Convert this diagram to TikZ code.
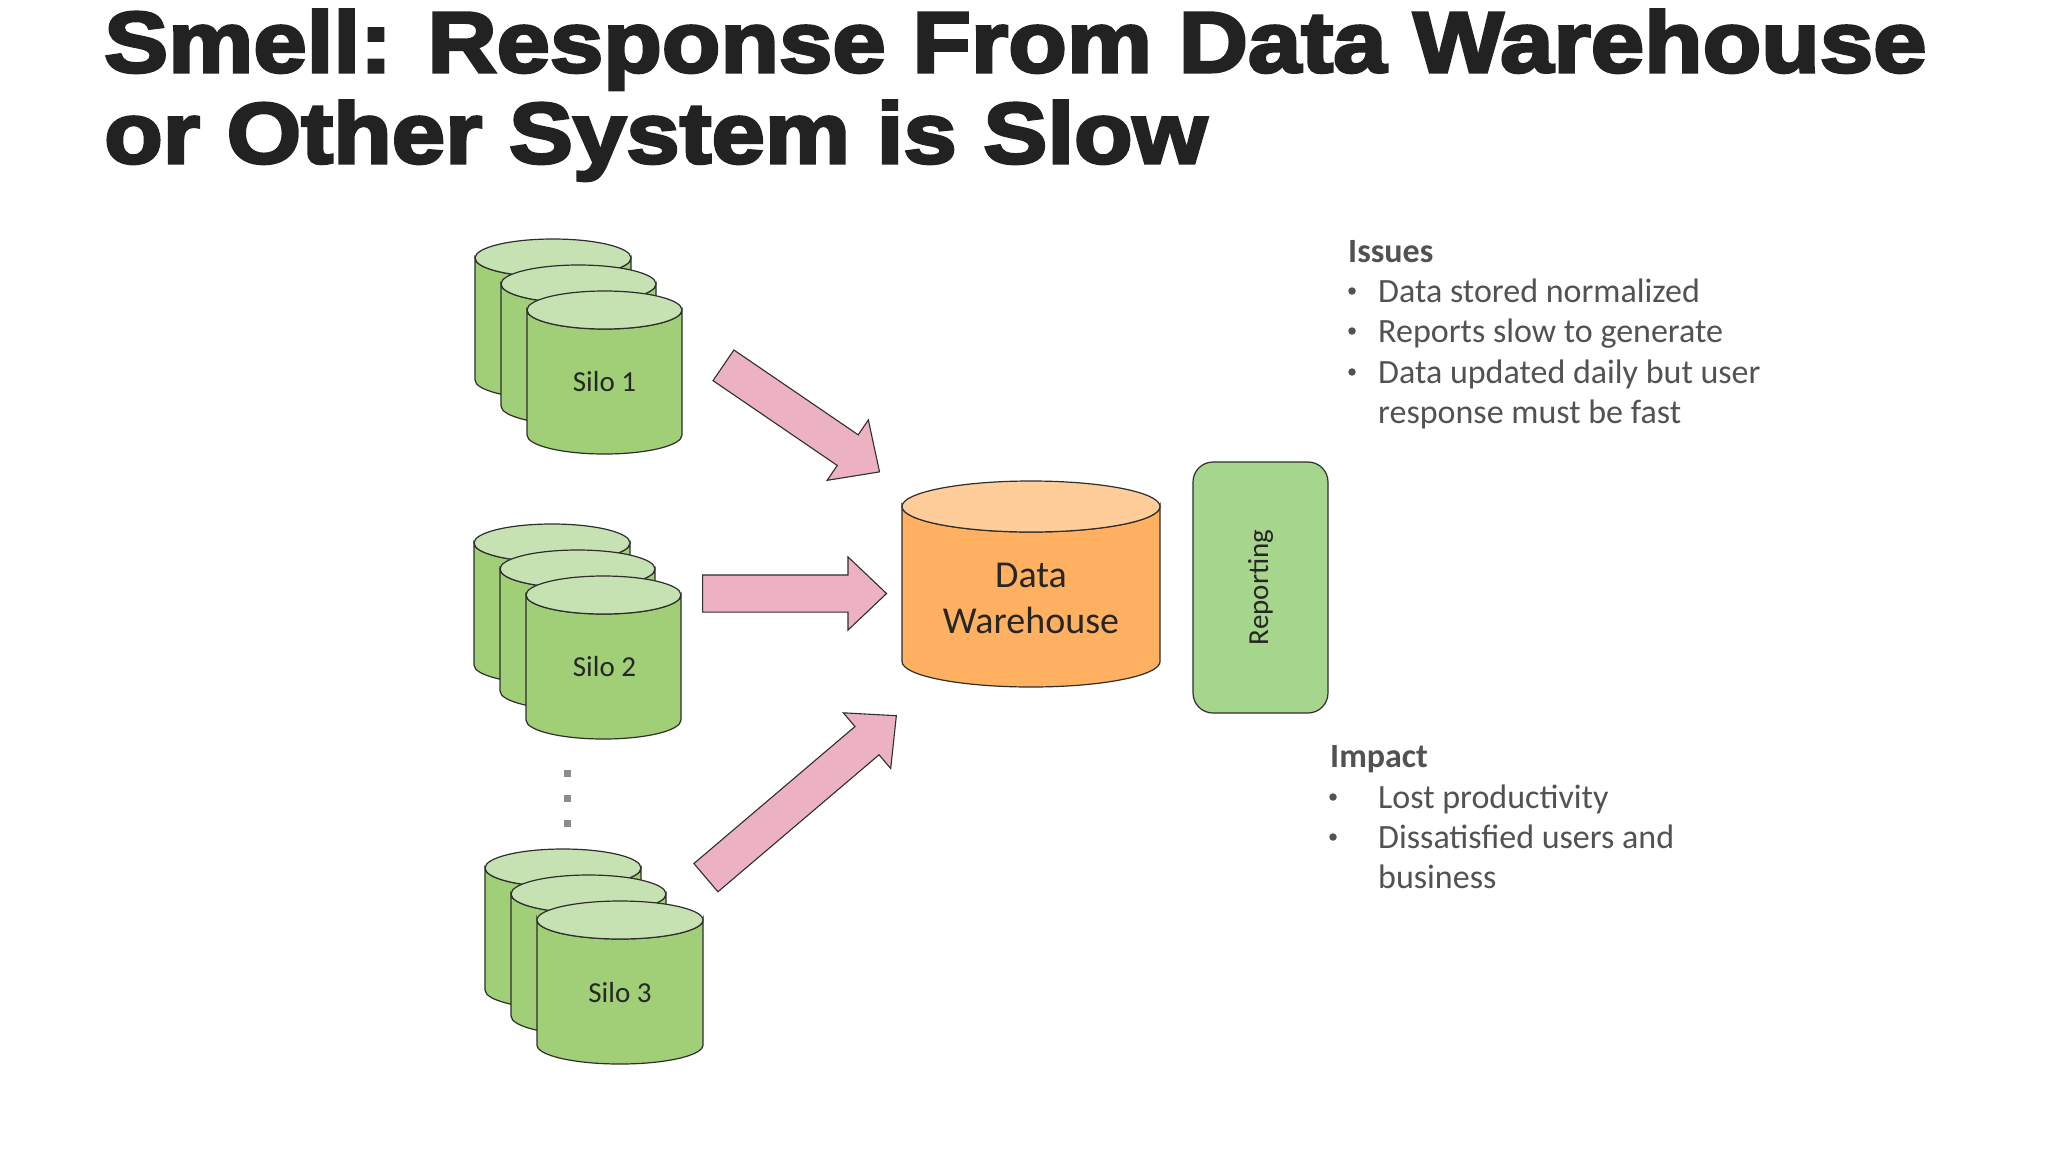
\documentclass[tikz,border=0pt]{standalone}
\usepackage{fontspec}
\setmainfont{Carlito}
\newfontfamily\titlefont[FakeStretch=1.115,FakeBold=3.5]{Liberation Sans}
\usetikzlibrary{shapes.arrows, positioning, calc}

\definecolor{silobody}{HTML}{A0CF78}
\definecolor{silotop}{HTML}{C6E2B2}
\definecolor{dwbody}{HTML}{FFB061}
\definecolor{dwtop}{HTML}{FFCD99}
\definecolor{repfill}{HTML}{A6D58C}
\definecolor{arrowpink}{HTML}{ECB2C1}
\definecolor{edgecol}{HTML}{2E2E2E}
\definecolor{txtgray}{HTML}{525252}
\definecolor{titlecol}{HTML}{222222}

\tikzset{
  drumline/.style={draw=edgecol, line width=1.2pt},
  silolabel/.style={font=\fontsize{29}{35}\selectfont, text=black!85},
  fatarrow/.style={single arrow, draw=edgecol, fill=arrowpink, line width=1.1pt,
    inner xsep=0pt, inner ysep=18pt, single arrow head extend=18pt,
    single arrow tip angle=87, anchor=tail},
  repbox/.style={draw=edgecol, fill=repfill, line width=1.2pt, rounded corners=20pt,
    rotate=90, minimum width=251pt, minimum height=135pt,
    font=\fontsize{29}{35}\selectfont, text=black!85},
  titletxt/.style={anchor=base west, inner sep=0pt, text=titlecol,
    font=\titlefont\bfseries\fontsize{86}{92}\selectfont},
  headtxt/.style={anchor=base west, inner sep=0pt, text=txtgray,
    font=\bfseries\fontsize{34}{40}\selectfont},
  itemtxt/.style={anchor=base west, inner sep=0pt, text=txtgray,
    font=\fontsize{34}{40}\selectfont},
  dotmark/.style={circle, fill=txtgray, inner sep=0pt, minimum size=7.5pt},
  moredot/.style={rectangle, fill=gray!90, inner sep=0pt, minimum size=7pt}
}

% x, y top, width, height, half height of the ellipse, body colour, top colour
\newcommand{\drum}[7]{%
  \filldraw[drumline, fill=#6] (#1,#2+#5) -- (#1,#2+#4-#5)
    arc[start angle=180, end angle=0, x radius=#3/2, y radius=#5]
    -- (#1+#3,#2+#5)
    arc[start angle=0, end angle=180, x radius=#3/2, y radius=#5] -- cycle;
  \filldraw[drumline, fill=#7] (#1+#3/2,#2+#5) ellipse[x radius=#3/2, y radius=#5];
}
% three drums of one silo
\newcommand{\silostack}[3]{%
  \drum{#1}{#2}{156}{160}{19}{silobody}{silotop}
  \drum{#1+26}{#2+26}{155}{160}{19}{silobody}{silotop}
  \drum{#1+52}{#2+52}{#3}{163}{19}{silobody}{silotop}
}

\begin{document}
\begin{tikzpicture}[x=1pt, y=-1pt]
\fill[white] (0,0) rectangle (2048,1152);
\useasboundingbox (0,0) rectangle (2048,1152);

% title
\node[titletxt] (ttl1) at (104,72) {Smell: Response From Data Warehouse};
\node[titletxt] (ttl2) at (104,163) {or Other System is Slow};

% silos
\silostack{475}{239}{155}
\silostack{474}{524}{155}
\silostack{485}{849}{166}
\node[silolabel] (s1) at (604.5,382) {Silo 1};
\node[silolabel] (s2) at (604.5,667) {Silo 2};
\node[silolabel] (s3) at (620,993) {Silo 3};

\foreach \y [count=\i] in {773,798,823}
  \node[moredot] (d\i) at (567,\y) {};

% warehouse and reporting
\drum{902}{481}{258}{206}{25.5}{dwbody}{dwtop}
\node[align=center, font=\fontsize{38}{46}\selectfont, text=black!85] (dw) at (1031,598)
  {Data\\Warehouse};
\node[repbox] (rep) at (1260.5,587.5) {Reporting};

% arrows
\coordinate (tl1) at (723,365);
\coordinate (tp1) at (879,471.5);
\coordinate (tl2) at (702,593.5);
\coordinate (tp2) at (886,593.5);
\coordinate (tl3) at (705.5,878);
\coordinate (tp3) at (896,716);
\path (tl1) -- (tp1) node[fatarrow, sloped, pos=0, minimum height=189pt] (a1) {};
\path (tl2) -- (tp2) node[fatarrow, sloped, pos=0, minimum height=184pt] (a2) {};
\path (tl3) -- (tp3) node[fatarrow, sloped, pos=0, minimum height=250pt] (a3) {};

% issues
\node[headtxt] (iss) at (1348,262) {Issues};
\node[itemtxt] (i1) at (1378,302) {Data stored normalized};
\node[itemtxt] (i2) at (1378,342) {Reports slow to generate};
\node[itemtxt] (i3) at (1378,383) {Data updated daily but user};
\node[itemtxt] (i3b) at (1378,423) {response must be fast};
\foreach \y [count=\i] in {291,331,372}
  \node[dotmark] (ib\i) at (1352,\y) {};

% impact
\node[headtxt] (imp) at (1330,767) {Impact};
\node[itemtxt] (m1) at (1378,808) {Lost productivity};
\node[itemtxt] (m2) at (1378,848) {Dissatisfied users and};
\node[itemtxt] (m2b) at (1378,888) {business};
\foreach \y [count=\i] in {797,837}
  \node[dotmark] (mb\i) at (1333,\y) {};
\end{tikzpicture}
\end{document}
